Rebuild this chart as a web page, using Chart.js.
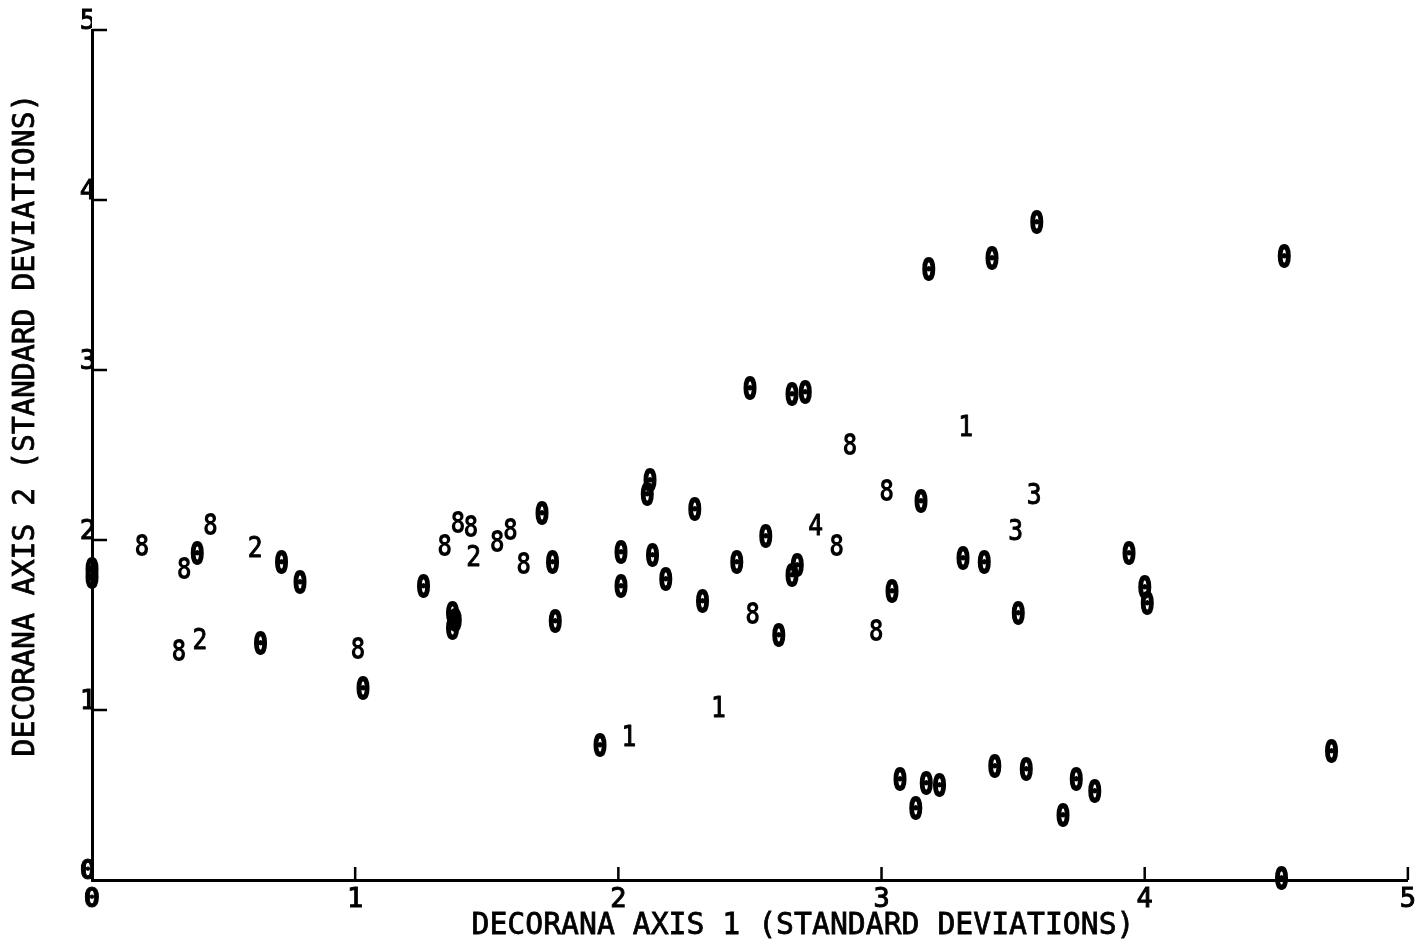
<!DOCTYPE html>
<html>
<head>
<meta charset="utf-8">
<title>DECORANA ordination</title>
<script src="https://cdn.jsdelivr.net/npm/chart.js@4.4.1/dist/chart.umd.min.js"></script>
<style>
  html, body { margin: 0; padding: 0; background: #fff; }
</style>
</head>
<body>
<canvas id="ordChart" width="1420" height="947"></canvas>
<script>
// Sample scores on DECORANA axes 1 and 2 (standard deviations), one list per class symbol
const class0 = [
  [3.59, 3.86], [3.42, 3.65], [3.18, 3.58], [4.53, 3.66],
  [2.50, 2.88], [2.66, 2.85], [2.71, 2.86], [3.15, 2.22],
  [2.12, 2.34], [2.11, 2.26], [2.29, 2.17], [1.71, 2.15],
  [1.75, 1.86], [1.26, 1.72], [1.37, 1.56], [1.38, 1.52],
  [1.37, 1.47], [1.76, 1.51], [2.01, 1.92], [2.01, 1.72],
  [2.13, 1.90], [2.18, 1.76], [2.32, 1.63], [2.45, 1.86],
  [2.56, 2.01], [2.66, 1.78], [2.68, 1.84], [2.61, 1.43],
  [3.04, 1.69], [3.31, 1.88], [3.39, 1.86], [3.52, 1.56],
  [3.94, 1.91], [4.00, 1.71], [4.01, 1.62], [1.93, 0.78],
  [3.07, 0.58], [3.13, 0.41], [3.17, 0.56], [3.22, 0.55],
  [3.43, 0.66], [3.55, 0.64], [3.74, 0.58], [3.81, 0.51],
  [3.69, 0.37], [4.71, 0.75], [4.52, 0.00], [0.40, 1.91],
  [0.72, 1.86], [0.79, 1.74], [0.64, 1.38], [1.03, 1.12],
  [0.00, 1.82], [0.00, 1.77]
];
const class8 = [
  [2.88, 2.55], [3.02, 2.28], [1.39, 2.09], [1.44, 2.07],
  [1.34, 1.96], [1.54, 1.98], [1.59, 2.05], [1.64, 1.85],
  [2.83, 1.96], [2.51, 1.56], [2.98, 1.46], [0.19, 1.96],
  [0.35, 1.82], [0.45, 2.08], [0.33, 1.34], [1.01, 1.35]
];
const class1 = [[3.32, 2.66], [2.38, 1.01], [2.04, 0.84]];
const class2 = [[0.62, 1.95], [0.41, 1.41], [1.45, 1.90]];
const class3 = [[3.58, 2.26], [3.51, 2.05]];
const class4 = [[2.75, 2.08]];

const tickLabels = ["0", "1", "2", "3", "4", "5"];
const xTitle = "DECORANA AXIS 1 (STANDARD DEVIATIONS)";
const yTitle = "DECORANA AXIS 2 (STANDARD DEVIATIONS)";

const MONO = '"DejaVu Sans Mono", "Liberation Mono", monospace';

function toPoints(list) {
  return list.map(p => ({ x: p[0], y: p[1] }));
}

function makeSet(list, symbol, font, squeeze, stroke) {
  return {
    data: toPoints(list),
    symbol: symbol,
    symbolFont: font,
    symbolSqueeze: squeeze,
    symbolStroke: stroke,
    pointRadius: 0,
    pointHoverRadius: 0,
  };
}

// each sample is drawn as its class digit, centred on the point
const symbolPlugin = {
  id: "symbols",
  afterDatasetsDraw(chart) {
    const ctx = chart.ctx;
    chart.data.datasets.forEach((ds, i) => {
      chart.getDatasetMeta(i).data.forEach(pt => {
        ctx.save();
        ctx.fillStyle = "#000";
        ctx.strokeStyle = "#000";
        ctx.lineJoin = "round";
        ctx.font = ds.symbolFont;
        ctx.textAlign = "center";
        ctx.textBaseline = "middle";
        ctx.translate(pt.x, pt.y);
        ctx.scale(ds.symbolSqueeze, 1);
        ctx.fillText(ds.symbol, 0, 1);
        if (ds.symbolStroke) {
          ctx.lineWidth = ds.symbolStroke;
          ctx.strokeText(ds.symbol, 0, 1);
        }
        ctx.restore();
      });
    });
  }
};

// tick marks point inward from both axes
const innerTicks = {
  id: "innerTicks",
  afterDraw(chart) {
    const ctx = chart.ctx;
    const xs = chart.scales.x;
    const ys = chart.scales.y;
    const area = chart.chartArea;
    ctx.save();
    ctx.strokeStyle = "#000";
    ctx.lineWidth = 2.5;
    ctx.beginPath();
    xs.ticks.forEach(t => {
      if (t.value === 0) return;
      const px = xs.getPixelForValue(t.value);
      ctx.moveTo(px, area.bottom);
      ctx.lineTo(px, area.bottom - 13);
    });
    ys.ticks.forEach(t => {
      if (t.value === 0) return;
      const py = ys.getPixelForValue(t.value);
      ctx.moveTo(area.left, py);
      ctx.lineTo(area.left + 15, py);
    });
    ctx.stroke();
    ctx.restore();
  }
};

// axis captions
const axisTitles = {
  id: "axisTitles",
  afterDraw(chart) {
    const ctx = chart.ctx;
    ctx.save();
    ctx.fillStyle = "#000";
    ctx.strokeStyle = "#000";
    ctx.lineWidth = 0.8;
    ctx.font = "31px " + MONO;
    ctx.textAlign = "center";
    ctx.textBaseline = "middle";
    ctx.save();
    ctx.translate(803, 926);
    ctx.scale(0.96, 1);
    ctx.fillText(xTitle, 0, 0);
    ctx.strokeText(xTitle, 0, 0);
    ctx.restore();
    ctx.translate(26, 425);
    ctx.rotate(-Math.PI / 2);
    ctx.scale(0.96, 1);
    ctx.fillText(yTitle, 0, 0);
    ctx.strokeText(yTitle, 0, 0);
    ctx.restore();
  }
};

const tickFont = ctx => ({
  family: MONO,
  size: 27,
  weight: ctx.tick && ctx.tick.value === 0 ? "bold" : "normal"
});

new Chart(document.getElementById("ordChart"), {
  type: "scatter",
  data: {
    datasets: [
      makeSet(class0, "0", "bold 31px " + MONO, 0.78, 1.8),
      makeSet(class8, "8", "bold 30px " + MONO, 0.85, 0),
      makeSet(class1, "1", "29px " + MONO, 0.85, 1),
      makeSet(class2, "2", "29px " + MONO, 0.85, 1),
      makeSet(class3, "3", "29px " + MONO, 0.85, 1),
      makeSet(class4, "4", "29px " + MONO, 0.85, 1)
    ]
  },
  options: {
    responsive: false,
    animation: false,
    layout: { padding: { top: 30, right: 10, left: 0, bottom: 0 } },
    plugins: {
      legend: { display: false },
      tooltip: { enabled: false }
    },
    scales: {
      x: {
        type: "linear",
        min: 0,
        max: 5,
        afterFit: s => { s.height = 67; },
        grid: { display: false, drawTicks: false },
        border: { display: true, color: "#000", width: 3 },
        ticks: {
          stepSize: 1,
          padding: 4,
          color: "#000",
          textStrokeColor: "#000",
          textStrokeWidth: 1,
          font: tickFont,
          maxRotation: 0,
          callback: (v, i) => tickLabels[i]
        }
      },
      y: {
        type: "linear",
        min: 0,
        max: 5,
        afterFit: s => { s.width = 92; },
        grid: { display: false, drawTicks: false },
        border: { display: true, color: "#000", width: 3 },
        ticks: {
          stepSize: 1,
          padding: -4,
          labelOffset: -8,
          color: "#000",
          textStrokeColor: "#000",
          textStrokeWidth: 1,
          font: tickFont,
          callback: (v, i) => tickLabels[i]
        }
      }
    }
  },
  plugins: [symbolPlugin, innerTicks, axisTitles]
});
</script>
</body>
</html>
